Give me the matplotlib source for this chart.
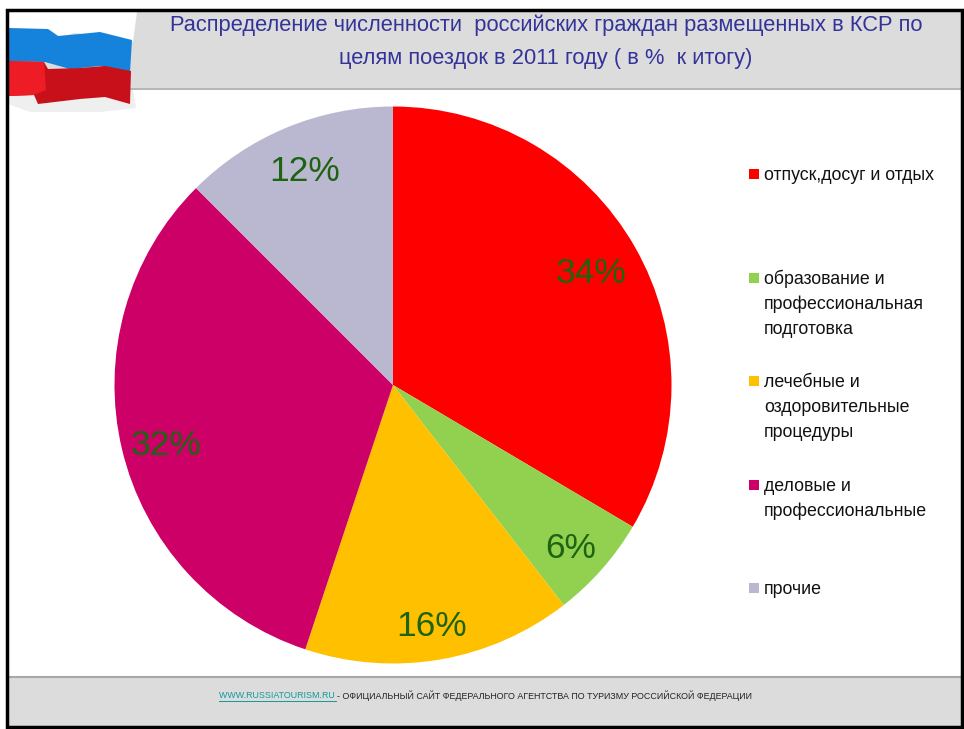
import matplotlib
matplotlib.use("Agg")
import matplotlib.pyplot as plt
from matplotlib.patches import Rectangle, Polygon

categories = ["отпуск,досуг и отдых", "образование и\nпрофессиональная\nподготовка",
              "лечебные и\nоздоровительные\nпроцедуры", "деловые и\nпрофессиональные", "прочие"]
values = [33.5, 6.0, 15.6, 32.4, 12.5]
value_labels = ["34%", "6%", "16%", "32%", "12%"]
colors = ["#FF0000", "#92D050", "#FFC000", "#CC0066", "#B9B8D0"]

W, H = 964, 729
plt.rcParams['font.family'] = ['Liberation Sans', 'DejaVu Sans']
fig = plt.figure(figsize=(W/100, H/100), dpi=100)
bg = fig.add_axes([0, 0, 1, 1])
bg.set_xlim(0, W); bg.set_ylim(H, 0); bg.axis("off")

# bands
bg.add_patch(Rectangle((7, 10), 955, 78, fc="#DCDCDC", ec="none", zorder=1))
bg.plot([7, 962], [88.5, 88.5], color="#A8A8A8", lw=1.2, zorder=1.5)
bg.add_patch(Rectangle((7, 677), 955, 49, fc="#DCDCDC", ec="none", zorder=1))
bg.plot([7, 962], [677, 677], color="#A8A8A8", lw=1.5, zorder=1.5)

# flag
z = 2
bg.add_patch(Polygon([(8, 90), (133, 90), (136, 108), (100, 112), (30, 112), (8, 104)], fc="#EFEFEF", ec="none", zorder=z))
bg.add_patch(Polygon([(8, 12), (137, 12), (133, 42), (100, 36), (75, 33), (60, 37), (50, 30), (8, 28)], fc="white", ec="none", zorder=z))
bg.add_patch(Polygon([(8, 28), (48, 29), (58, 36), (80, 34), (100, 32), (132, 40), (130, 72), (100, 66), (70, 69), (45, 62), (8, 61)], fc="#1583DC", ec="none", zorder=z))
bg.add_patch(Polygon([(8, 61), (44, 62), (48, 69), (80, 68), (105, 66), (131, 71), (130, 104), (105, 97), (80, 99), (38, 104), (34, 95), (8, 96)], fc="#C8101A", ec="none", zorder=z))
bg.add_patch(Polygon([(8, 61), (44, 62), (46, 90), (34, 95), (8, 96)], fc="#EE1C24", ec="none", zorder=z))

# border
bg.add_patch(Rectangle((6.5, 10), 955.5, 716.5, fc="none", ec="black", lw=2.5, zorder=3))

# title
bg.text(546, 25.5, "Распределение численности  российских граждан размещенных в КСР по",
        ha="center", va="center", fontsize=15.75, color="#333399")
bg.text(546, 58.5, "целям поездок в 2011 году ( в %  к итогу)",
        ha="center", va="center", fontsize=15.75, color="#333399")

# pie
cx, cy, r = 393, 385, 278.5
ax = fig.add_axes([(cx-r)/W, 1-(cy+r)/H, 2*r/W, 2*r/H])
ax.pie(values, colors=colors, startangle=90, counterclock=False, radius=1,
       wedgeprops=dict(linewidth=0))
ax.set_xlim(-1, 1); ax.set_ylim(-1, 1)

# value labels
label_pos = [(591, 273), (571, 548), (432, 626), (166, 445), (305, 171)]
for (x, y), t in zip(label_pos, value_labels):
    bg.text(x, y, t, ha="center", va="center", fontsize=25.5, color="#1E6310", zorder=5)
bg.set_zorder(1); ax.set_zorder(0)
bg.patch.set_alpha(0)

# legend
legend_y = [174, 278, 381, 485, 588]
for y, c, t in zip(legend_y, colors, categories):
    bg.add_patch(Rectangle((749, y-5), 10, 10, fc=c, ec="none"))
    for i, line in enumerate(t.split("\n")):
        bg.text(764, y + 1 + i*25, line, ha="left", va="center", fontsize=12.8, color="#111111")

# footer
bg.text(219, 696, "WWW.RUSSIATOURISM.RU ", ha="left", va="center", fontsize=6.4, color="#0E9A9A")
bg.plot([219, 336], [701, 701], color="#0E9A9A", lw=0.7)
bg.text(337, 696, "- ОФИЦИАЛЬНЫЙ САЙТ ФЕДЕРАЛЬНОГО АГЕНТСТВА ПО ТУРИЗМУ РОССИЙСКОЙ ФЕДЕРАЦИИ",
        ha="left", va="center", fontsize=6.36, color="#222222")

fig.savefig("out.png", dpi=100)
